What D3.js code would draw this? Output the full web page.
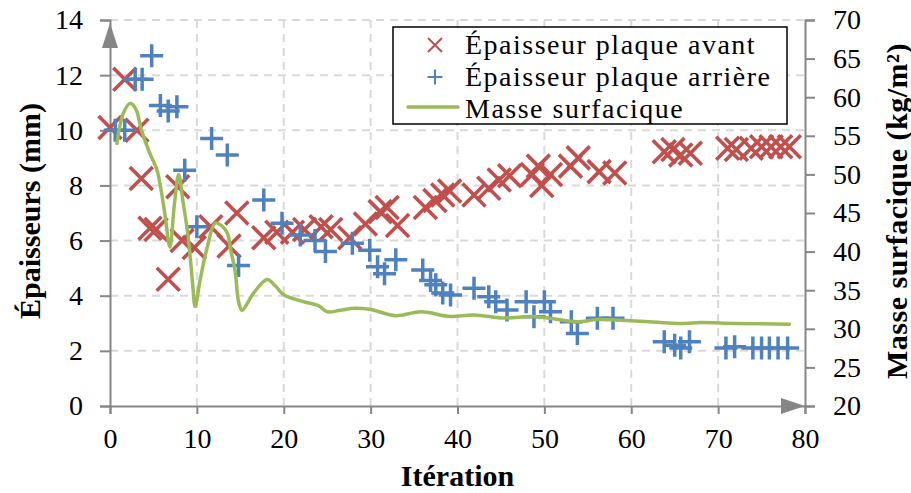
<!DOCTYPE html>
<meta charset="utf-8">
<head>
    <script src="https://d3js.org/d3.v7.min.js"></script>
</head>
<html lang="fr">
    <body style="margin:0;background:#fff">
        <div id="dataviz"></div>
    </body>
</html>
<script>

    // Épaisseur plaque avant : [itération, mm]
    const avantIter = [0, 1.7, 3.1, 3.6, 4.6, 5.3, 6.7, 7.8, 8.3, 9.7, 11.6, 13.7, 14.6, 17.7, 19.2, 21, 22.4, 24.3, 25.4, 27.6, 29.4, 31.1, 31.9, 33.1, 36.3, 37.4, 38.3, 39.1, 41.9, 43.6, 44.8, 46, 48.6, 49.3, 49.7, 50.7, 53, 53.9, 56.3, 58.1, 63.8, 64.8, 65.7, 66.8, 71.1, 72.1, 73.8, 75, 76.1, 77.2, 78.2]
    const avantVal  = [10.1, 11.85, 10.0, 8.25, 6.45, 6.4, 4.6, 7.95, 6.0, 5.75, 6.5, 5.8, 7.0, 6.1, 6.3, 6.3, 6.4, 6.5, 6.4, 6.1, 6.6, 7.05, 7.2, 6.55, 7.2, 7.45, 7.65, 7.8, 7.65, 7.9, 8.2, 8.35, 8.4, 8.7, 8.0, 8.4, 8.7, 9.0, 8.5, 8.45, 9.22, 9.3, 9.1, 9.17, 9.35, 9.3, 9.35, 9.4, 9.4, 9.4, 9.4]

    // Épaisseur plaque arrière : [itération, mm]
    const arriereIter = [0.6, 1.7, 2.9, 3.7, 4.8, 5.8, 6.7, 7.7, 8.6, 10, 11.7, 13.5, 14.8, 17.7, 19.8, 21.9, 23.6, 24.8, 27.9, 29.9, 30.8, 31.6, 32.9, 36, 36.9, 37.5, 38.3, 39.2, 41.9, 43.6, 44.4, 45.7, 47.9, 48.8, 50, 50.7, 53.1, 53.8, 56.1, 57.9, 63.8, 65, 65.7, 66.7, 70.9, 71.9, 74, 75, 75.9, 76.9, 78]
    const arriereVal  = [10.0, 10.0, 11.85, 11.85, 12.7, 10.9, 10.7, 10.85, 8.55, 6.5, 9.7, 9.1, 5.1, 7.47, 6.63, 6.2, 6.0, 5.6, 5.9, 5.65, 5.05, 4.8, 5.3, 4.93, 4.55, 4.4, 4.1, 4.03, 4.27, 3.96, 3.78, 3.48, 3.78, 3.24, 3.78, 3.42, 3.06, 2.63, 3.18, 3.18, 2.33, 2.2, 2.1, 2.33, 2.1, 2.15, 2.1, 2.1, 2.1, 2.1, 2.1]

    // Masse surfacique (axe de droite) : [itération, kg/m²]
    const masseIter = [0.8, 1.5, 2.3, 3.0, 3.6, 4.6, 5.4, 5.8, 6.3, 6.9, 7.4, 7.9, 8.4, 9.0, 9.5, 9.8, 10.4, 11.2, 12.1, 12.8, 13.5, 13.9, 14.4, 14.8, 15.2, 16.5, 18.1, 19.0, 20.0, 22.3, 24.0, 25.0, 26.5, 28.1, 30.0, 32.9, 35.8, 39.2, 41.9, 45.4, 48.4, 50.4, 53.8, 56.1, 60.0, 66.1, 68.0, 71.9, 78.2]
    const masseVal  = [54.0, 57.8, 59.2, 58.4, 55.8, 52.7, 50.6, 48.5, 45.0, 40.6, 46.0, 50.0, 46.5, 41.9, 36.0, 32.9, 36.5, 40.6, 43.7, 43.4, 42.4, 40.2, 37.5, 33.5, 32.4, 34.6, 36.4, 35.6, 34.4, 33.5, 33.0, 32.2, 32.4, 32.65, 32.5, 31.7, 32.2, 31.6, 31.8, 31.4, 31.6, 31.4, 30.9, 31.2, 31.05, 30.7, 30.8, 30.7, 30.6]

    const leftTicks  = [0, 2, 4, 6, 8, 10, 12, 14]
    const rightTicks = [20, 25, 30, 35, 40, 45, 50, 55, 60, 65, 70]
    const xTicks     = [0, 10, 20, 30, 40, 50, 60, 70, 80]

    const legendLabels = ["Épaisseur plaque avant", "Épaisseur plaque arrière", "Masse surfacique"]

    const red = "#C0504D", blue = "#4F81BD", green = "#9BBB59", grey = "#868686"
    const font = "Liberation Serif"

    // dimensions
    const W = 911, H = 493
    const margin = {top: 20, right: 106, bottom: 87, left: 110},
      width = W - margin.left - margin.right,
      height = H - margin.top - margin.bottom;

    const svg = d3.select("#dataviz")
      .append("svg")
        .attr("width", W)
        .attr("height", H)
      .append("g")
        .attr("transform", `translate(${margin.left},${margin.top})`);

    const x = d3.scaleLinear().domain([0, 80]).range([0, width])
    const y = d3.scaleLinear().domain([0, 14]).range([height, 0])
    const y2 = d3.scaleLinear().domain([20, 70]).range([height, 0])

    // grille
    svg.selectAll(".hgrid")
      .data(leftTicks.filter(d => d > 0))
      .join("line")
        .attr("x1", 0).attr("x2", width)
        .attr("y1", d => y(d)).attr("y2", d => y(d))
        .style("stroke", "#D9D9D9").style("stroke-width", 2)
        .style("stroke-dasharray", "8,6")
    svg.selectAll(".vgrid")
      .data(xTicks.filter(d => d > 0 && d < 80))
      .join("line")
        .attr("x1", d => x(d)).attr("x2", d => x(d))
        .attr("y1", 0).attr("y2", height)
        .style("stroke", "#D9D9D9").style("stroke-width", 2)
        .style("stroke-dasharray", "8,6")

    // axes
    const axisLeft = svg.append("g")
      .call(d3.axisLeft(y).tickValues(leftTicks).tickSize(10).tickPadding(17))
    const axisRight = svg.append("g")
      .attr("transform", `translate(${width},0)`)
      .call(d3.axisRight(y2).tickValues(rightTicks).tickSize(10).tickPadding(18))
    const axisBottom = svg.append("g")
      .attr("transform", `translate(0,${height})`)
      .call(d3.axisBottom(x).tickValues(xTicks).tickSize(8).tickPadding(14))

    ;[axisLeft, axisRight, axisBottom].forEach(a => {
      a.select(".domain").style("stroke", grey).style("stroke-width", 2)
      a.selectAll(".tick line").style("stroke", grey).style("stroke-width", 2)
      a.selectAll("text")
        .style("font-family", font).style("font-size", "28px").style("fill", "#000")
    })

    // flèches
    svg.append("path")
      .attr("d", `M${x(0)},${y(14) + 3} L${x(0) - 8},${y(14) + 28} L${x(0) + 8},${y(14) + 28} Z`)
      .style("fill", grey)
    svg.append("path")
      .attr("d", `M${x(80)},${y(0)} L${x(80) - 24},${y(0) - 8} L${x(80) - 24},${y(0) + 8} Z`)
      .style("fill", grey)

    // marqueurs
    function cross(r) { return `M${-r},${-r}L${r},${r}M${-r},${r}L${r},${-r}` }
    function plus(r) { return `M${-r},0L${r},0M0,${-r}L0,${r}` }

    svg.selectAll(".avant")
      .data(avantIter.map((d, i) => [d, avantVal[i]]))
      .join("path")
        .attr("transform", d => `translate(${x(d[0])},${y(d[1])})`)
        .attr("d", cross(11.5))
        .style("stroke", red).style("stroke-width", 3.6).style("fill", "none")

    svg.selectAll(".arriere")
      .data(arriereIter.map((d, i) => [d, arriereVal[i]]))
      .join("path")
        .attr("transform", d => `translate(${x(d[0])},${y(d[1])})`)
        .attr("d", plus(11.5))
        .style("stroke", blue).style("stroke-width", 3.5).style("fill", "none")

    // masse surfacique
    svg.append("path")
      .datum(masseIter.map((d, i) => [d, masseVal[i]]))
      .attr("d", d3.line().curve(d3.curveCatmullRom.alpha(0.5))
        .x(d => x(d[0])).y(d => y2(d[1])))
      .style("fill", "none").style("stroke", green).style("stroke-width", 3.5)
      .style("stroke-linecap", "round")

    // titres des axes
    svg.append("text")
      .attr("transform", `translate(${29 - margin.left},${y(7) - 2}) rotate(-90)`)
      .attr("text-anchor", "middle").attr("dominant-baseline", "central")
      .style("font-family", font).style("font-size", "30px").style("font-weight", "bold")
      .text("Épaisseurs (mm)")
    svg.append("text")
      .attr("transform", `translate(${width + 91},${y(7) - 2}) rotate(-90)`)
      .attr("text-anchor", "middle").attr("dominant-baseline", "central")
      .style("font-family", font).style("font-size", "30px").style("font-weight", "bold")
      .style("letter-spacing", "0.5px")
      .text("Masse surfacique  (kg/m²)")
    svg.append("text")
      .attr("x", x(40)).attr("y", height + 80)
      .attr("text-anchor", "middle")
      .style("font-family", font).style("font-size", "30px").style("font-weight", "bold")
      .text("Itération")

    // légende
    const leg = svg.append("g").attr("transform", `translate(${393 - margin.left},${27 - margin.top})`)
    leg.append("rect")
      .attr("width", 394).attr("height", 97)
      .style("fill", "#fff").style("stroke", "#000").style("stroke-width", 1.5)
    leg.append("path").attr("transform", "translate(42,18)").attr("d", cross(7))
      .style("stroke", red).style("stroke-width", 2).style("fill", "none")
    leg.append("path").attr("transform", "translate(42,50)").attr("d", plus(7.5))
      .style("stroke", blue).style("stroke-width", 2).style("fill", "none")
    leg.append("line").attr("x1", 15).attr("x2", 65).attr("y1", 80).attr("y2", 80)
      .style("stroke", green).style("stroke-width", 3.5).style("stroke-linecap", "round")
    leg.selectAll(".lab")
      .data(legendLabels)
      .join("text")
        .attr("x", 72).attr("y", (d, i) => 27 + i * 32)
        .style("font-family", font).style("font-size", "28px").style("letter-spacing", "1.5px")
        .text(d => d)

</script>
